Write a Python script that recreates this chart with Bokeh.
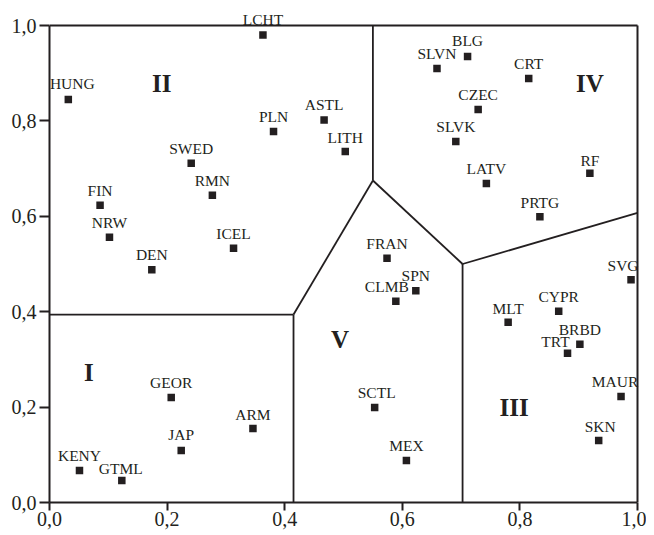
from bokeh.plotting import figure
from bokeh.models import Range1d, FixedTicker, ColumnDataSource, LabelSet
from bokeh.embed import file_html
from bokeh.resources import INLINE

# ---- data ----
names = ["LCHT", "HUNG", "PLN", "ASTL", "LITH", "SWED", "RMN", "FIN", "NRW", "ICEL", "DEN",
         "BLG", "SLVN", "CRT", "CZEC", "SLVK", "RF", "LATV", "PRTG",
         "FRAN", "SPN", "CLMB", "SCTL", "MEX",
         "SVG", "CYPR", "MLT", "BRBD", "TRT", "MAUR", "SKN",
         "GEOR", "ARM", "JAP", "KENY", "GTML"]
x_vals = [0.363, 0.032, 0.381, 0.467, 0.503, 0.241, 0.277, 0.086, 0.102, 0.313, 0.174,
          0.711, 0.659, 0.815, 0.729, 0.691, 0.919, 0.743, 0.834,
          0.574, 0.623, 0.589, 0.553, 0.607,
          0.989, 0.866, 0.780, 0.902, 0.881, 0.972, 0.934,
          0.207, 0.346, 0.224, 0.051, 0.123]
y_vals = [0.980, 0.845, 0.778, 0.802, 0.736, 0.711, 0.644, 0.623, 0.556, 0.533, 0.488,
          0.935, 0.910, 0.889, 0.824, 0.757, 0.690, 0.669, 0.599,
          0.512, 0.444, 0.422, 0.199, 0.088,
          0.467, 0.401, 0.378, 0.332, 0.313, 0.222, 0.130,
          0.220, 0.155, 0.109, 0.067, 0.046]

# region boundaries (segments), plus the top and right frame lines
bound_xs = [[0.0, 0.415], [0.415, 0.415], [0.415, 0.550], [0.550, 0.550],
            [0.550, 0.7025], [0.7025, 0.7025], [0.7025, 1.0]]
bound_ys = [[0.394, 0.394], [0.0, 0.394], [0.394, 0.675], [0.675, 1.0],
            [0.675, 0.500], [0.500, 0.0], [0.500, 0.607]]
frame_xs = [[0.0, 1.0], [1.0, 1.0]]
frame_ys = [[1.0, 1.0], [0.0, 1.0]]

region_names = ["I", "II", "III", "IV", "V"]
region_x = [0.067, 0.191, 0.790, 0.919, 0.494]
region_y = [0.272, 0.878, 0.199, 0.878, 0.342]

tick_vals = [0.0, 0.2, 0.4, 0.6, 0.8, 1.0]
tick_labels = ["0,0", "0,2", "0,4", "0,6", "0,8", "1,0"]

# ---- styling ----
INK = "#231f20"
SERIF = "Liberation Serif"
PX_X = 588.0   # pixels per unit x
PX_Y = 477.0   # pixels per unit y
PAD_TOP = 16   # px room above y=1 for labels
PAD_RIGHT = 3  # px room right of x=1 for frame line

default_off = (0.0, 15.0)   # label centre offset in px (right, up)
label_off = {"HUNG": (4, 16), "LCHT": (0, 16), "BLG": (0, 16), "SVG": (-8, 14),
             "CLMB": (-9, 15), "TRT": (-12, 12), "MAUR": (-6, 15), "GTML": (-1, 12),
             "RF": (0, 13), "PRTG": (0, 14), "JAP": (0, 16.5), "SCTL": (2, 15),
             "SKN": (1.5, 14), "LITH": (0, 14), "MLT": (0, 13.5), "ARM": (0, 14)}
dx = [label_off.get(n, default_off)[0] for n in names]
dy = [label_off.get(n, default_off)[1] for n in names]

src = ColumnDataSource(dict(x=x_vals, y=y_vals, name=names, dx=dx, dy=dy))
rsrc = ColumnDataSource(dict(x=region_x, y=region_y, name=region_names))

p = figure(frame_width=int(PX_X + PAD_RIGHT), frame_height=int(PX_Y + PAD_TOP),
           output_backend="svg", toolbar_location=None,
           x_range=Range1d(0, 1 + PAD_RIGHT / PX_X), y_range=Range1d(0, 1 + PAD_TOP / PX_Y),
           min_border_left=49, min_border_top=25 - PAD_TOP,
           min_border_right=6, min_border_bottom=30)
p.background_fill_color = "white"
p.border_fill_color = "white"
p.grid.visible = False
p.outline_line_color = None

for ax in (p.xaxis[0], p.yaxis[0]):
    ax.ticker = FixedTicker(ticks=tick_vals)
    ax.bounds = (0, 1)
    ax.major_label_overrides = {v: l for v, l in zip(tick_vals, tick_labels)}
    ax.axis_line_color = INK
    ax.axis_line_width = 2
    ax.major_tick_line_color = INK
    ax.major_tick_line_width = 2
    ax.major_tick_in = 0
    ax.minor_tick_line_color = None
    ax.major_label_text_font = SERIF
    ax.major_label_text_font_size = "20px"
    ax.major_label_text_color = INK
p.xaxis.major_tick_out = 8
p.yaxis.major_tick_out = 10
p.xaxis.major_label_standoff = 1
p.yaxis.major_label_standoff = 3

p.multi_line(xs=frame_xs, ys=frame_ys, line_color=INK, line_width=2)
p.multi_line(xs=bound_xs, ys=bound_ys, line_color=INK, line_width=1.8)

p.scatter("x", "y", source=src, marker="square", size=7.5, fill_color=INK, line_color=INK,
          line_width=0)

labels = LabelSet(x="x", y="y", text="name", source=src, x_offset="dx", y_offset="dy",
                  text_font=SERIF, text_font_size="15.5px", text_color=INK,
                  text_align="center", text_baseline="middle")
p.add_layout(labels)

regions = LabelSet(x="x", y="y", text="name", source=rsrc,
                   text_font=SERIF, text_font_size="25px", text_font_style="bold",
                   text_color=INK, text_align="center", text_baseline="middle")
p.add_layout(regions)

open("out.html", "w").write(file_html(p, INLINE))
